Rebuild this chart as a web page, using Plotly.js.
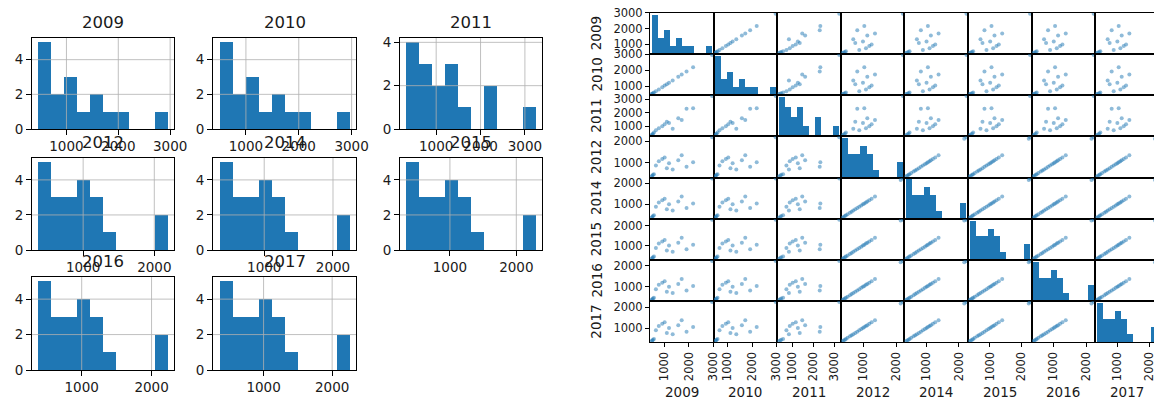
<!DOCTYPE html>
<html><head><meta charset="utf-8">
<script src="https://cdn.plot.ly/plotly-3.0.1.min.js"></script>
<style>html,body{margin:0;padding:0;overflow:hidden;background:#fff}#chart{width:1160px;height:400px}</style>
</head><body><div id="chart"></div>
<script>
// ---- data (one value per row; null = missing) ----
const years = ['2009', '2010', '2011', '2012', '2014', '2015', '2016', '2017'];
const v2009 = [460, 490, 520, 560, null, null, null, 640, 760, 900, 1000, 1090, 1180, 1330, null, 1560, 1700, 1900, 2170, null, 2950];
const v2010 = [500, 530, 559, 599, null, null, null, 678, 796, 935, 1034, 1122, 1211, 1360, null, 1587, 1725, 1923, 2189, null, 2960];
const v2011 = [330, 400, 450, 540, null, null, null, 700, 860, 1000, 1150, 1340, 1250, 820, null, 1600, 1460, 2300, 2330, null, 3240];
const v2012 = [372, 410, 450, 480, 530, 600, 650, 880, 1080, 1180, 1250, 760, 990, 700, 940, 1120, 1350, 820, 1030, 2120, 2186];
const v2014 = [350, 390, 431, 463, 515, 588, 640, 879, 1088, 1192, 1265, 754, 994, 692, 942, 1129, 1369, 817, 1036, 2171, 2240];
const v2015 = [345, 386, 429, 461, 514, 590, 643, 890, 1104, 1211, 1286, 761, 1008, 697, 954, 1147, 1394, 825, 1051, 2248, 2290];
const v2016 = [381, 420, 461, 491, 542, 613, 664, 898, 1102, 1204, 1275, 776, 1011, 715, 960, 1143, 1377, 837, 1051, 2162, 2229];
const v2017 = [357, 397, 438, 470, 524, 597, 648, 888, 1097, 1201, 1275, 762, 1003, 700, 951, 1139, 1379, 825, 1045, 2184, 2253];
const series = [v2009, v2010, v2011, v2012, v2014, v2015, v2016, v2017];

// ---- helpers ----
const W = 1160, H = 400;
const FONT = 'DejaVu Sans';
const BLUE = '#1f77b4';
const TXT = '#1a1a1a';
const px = x => x / W, py = y => 1 - y / H;

function stats(arr) {
  const v = arr.filter(d => d !== null);
  return { v, lo: Math.min(...v), hi: Math.max(...v) };
}
function binSpec(s) {
  const eps = (s.hi - s.lo) * 1e-7;
  return { start: s.lo - eps, end: s.hi + eps, size: (s.hi - s.lo + 2 * eps) / 10 };
}
function maxCount(s) {
  const b = binSpec(s), c = new Array(10).fill(0);
  s.v.forEach(x => { let k = Math.floor((x - b.start) / b.size); if (k > 9) k = 9; c[k]++; });
  return Math.max(...c);
}

const data = [];
const layout = {
  width: W, height: H, margin: { l: 0, r: 0, t: 0, b: 0 }, showlegend: false,
  bargap: 0, paper_bgcolor: '#fff', plot_bgcolor: '#fff',
  font: { family: FONT, color: TXT }, annotations: [], shapes: []
};

// ---- left: grid of histograms ----
const histCols = [[32, 174], [213, 356], [400, 542]];
const histRows = [[38, 129], [158, 250], [277, 370]];
years.forEach((yr, i) => {
  const k = i + 1, r = Math.floor(i / 3), c = i % 3;
  const s = stats(series[i]);
  const pad = (s.hi - s.lo) * 0.05;
  const mc = maxCount(s);
  const xr = [s.lo - pad, s.hi + pad], yr2 = [0, mc * 1.05];
  data.push({ type: 'histogram', x: s.v, xaxis: 'x' + k, yaxis: 'y' + k, xbins: binSpec(s),
    marker: { color: BLUE, line: { width: 0 } }, hoverinfo: 'skip' });
  const common = { showgrid: false, zeroline: false, showline: true, mirror: true, linecolor: '#000',
    linewidth: 1, ticks: 'outside', ticklen: 5, tickcolor: '#000', tickwidth: 1,
    tickfont: { size: 13.5, family: FONT, color: TXT }, fixedrange: true };
  layout['xaxis' + k] = Object.assign({}, common, { domain: [px(histCols[c][0]), px(histCols[c][1])],
    anchor: 'y' + k, range: xr, tick0: 0, dtick: 1000 });
  layout['yaxis' + k] = Object.assign({}, common, { domain: [py(histRows[r][1]), py(histRows[r][0])],
    anchor: 'x' + k, range: yr2, tick0: 0, dtick: 2 });
  // grid lines drawn above the bars (as matplotlib does)
  for (let t = 1000; t < xr[1]; t += 1000) {
    if (t <= xr[0]) continue;
    layout.shapes.push({ type: 'line', layer: 'above', xref: 'x' + k, yref: 'y' + k + ' domain',
      x0: t, x1: t, y0: 0, y1: 1, line: { color: '#b0b0b0', width: 0.8 } });
  }
  for (let t = 2; t < yr2[1]; t += 2) {
    layout.shapes.push({ type: 'line', layer: 'above', xref: 'x' + k + ' domain', yref: 'y' + k,
      x0: 0, x1: 1, y0: t, y1: t, line: { color: '#b0b0b0', width: 0.8 } });
  }
  layout.annotations.push({ text: yr, xref: 'paper', yref: 'paper', showarrow: false,
    x: px((histCols[c][0] + histCols[c][1]) / 2), y: py(histRows[r][0] - 15.5),
    xanchor: 'center', yanchor: 'middle', font: { size: 16.5, family: FONT, color: TXT } });
});

// ---- right: scatter matrix ----
const M0x = 650, CW = 63.6, M0y = 12.7, RH = 41.2;
const bounds = series.map(a => { const s = stats(a); const d = (s.hi - s.lo) * 0.025; return [s.lo - d, s.hi + d]; });
let k = 9;
for (let i = 0; i < 8; i++) {
  for (let j = 0; j < 8; j++, k++) {
    const xa = 'x' + k, ya = 'y' + k;
    const xdom = [px(M0x + CW * j), px(M0x + CW * (j + 1))];
    const ydom = [py(M0y + RH * (i + 1)), py(M0y + RH * i)];
    let yrange = bounds[i];
    const yextra = {};
    if (i === j) {
      const s = stats(series[i]);
      const mc = maxCount(s);
      yrange = [0, mc * 1.05];
      data.push({ type: 'histogram', x: s.v, xaxis: xa, yaxis: ya, xbins: binSpec(s),
        marker: { color: BLUE, line: { width: 0 } }, hoverinfo: 'skip' });
      if (j === 0) {
        // relabel diagonal ticks with the value scale of the row
        const locs = [];
        for (let t = 1000; t < bounds[0][1]; t += 1000) if (t > bounds[0][0]) locs.push(t);
        yextra.tickmode = 'array';
        yextra.tickvals = locs.map(t => (t - bounds[0][0]) / (bounds[0][1] - bounds[0][0]) * (yrange[1] - yrange[0]) + yrange[0]);
        yextra.ticktext = locs.map(t => String(t));
      }
    } else {
      const xs = [], ys = [];
      series[j].forEach((v, n) => { const w = series[i][n]; if (v !== null && w !== null) { xs.push(v); ys.push(w); } });
      data.push({ type: 'scatter', mode: 'markers', x: xs, y: ys, xaxis: xa, yaxis: ya,
        marker: { color: BLUE, size: 4, opacity: 0.5, line: { width: 0 } }, hoverinfo: 'skip' });
    }
    const base = { showgrid: false, zeroline: false, showline: true, mirror: true, linecolor: '#000',
      linewidth: 1, tickcolor: '#000', tickwidth: 1, ticklen: 4, fixedrange: true,
      tickfont: { size: 11.5, family: FONT, color: TXT } };
    layout['xaxis' + k] = Object.assign({}, base, { domain: xdom, anchor: ya, range: bounds[j],
      tick0: 0, dtick: 1000, tickangle: -90,
      showticklabels: i === 7, ticks: i === 7 ? 'outside' : '' });
    layout['yaxis' + k] = Object.assign({}, base, { domain: ydom, anchor: xa, range: yrange,
      tick0: 0, dtick: 1000,
      showticklabels: j === 0, ticks: j === 0 ? 'outside' : '' }, yextra);
  }
}
years.forEach((yr, n) => {
  layout.annotations.push({ text: yr, xref: 'paper', yref: 'paper', showarrow: false,
    x: px(M0x + CW * (n + 0.5)), y: py(392), xanchor: 'center', yanchor: 'middle',
    font: { size: 13.5, family: FONT, color: TXT } });
  layout.annotations.push({ text: yr, xref: 'paper', yref: 'paper', showarrow: false, textangle: -90,
    x: px(596), y: py(M0y + RH * (n + 0.5)), xanchor: 'center', yanchor: 'middle',
    font: { size: 13.5, family: FONT, color: TXT } });
});

Plotly.newPlot('chart', data, layout, { displayModeBar: false, staticPlot: true });
</script>
</body></html>
